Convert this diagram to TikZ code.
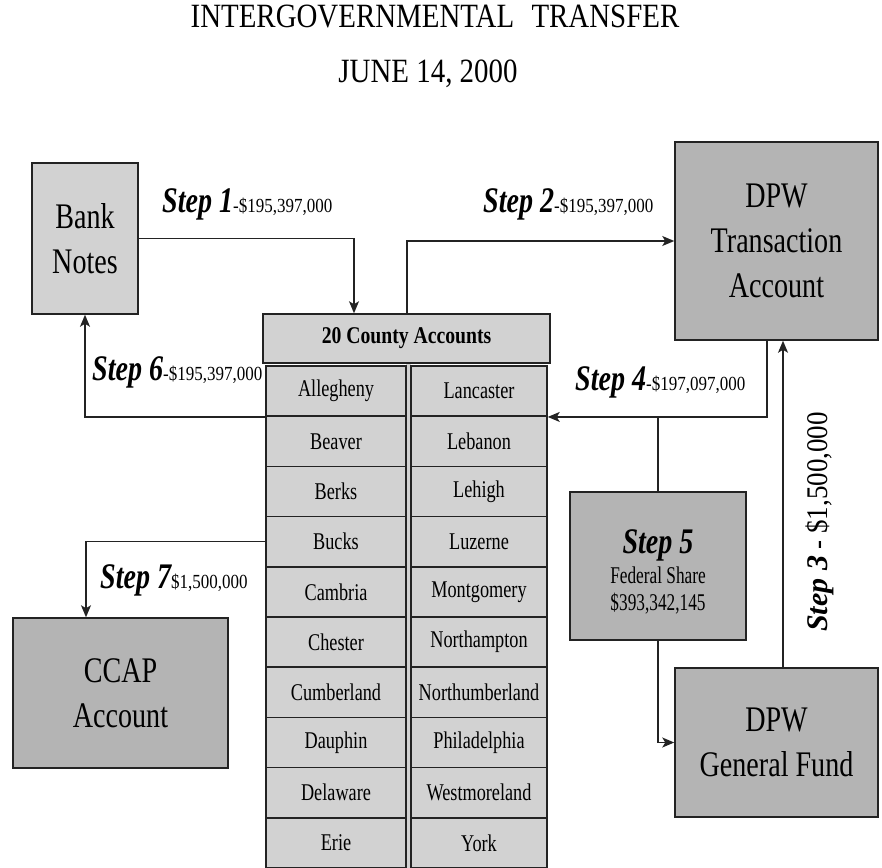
\documentclass[tikz,border=0pt]{standalone}
\usepackage{fontspec}
\setmainfont{Liberation Serif}
\usetikzlibrary{arrows.meta}
\definecolor{lightbox}{RGB}{210,210,210}
\definecolor{darkbox}{RGB}{180,180,180}
\definecolor{edge}{RGB}{35,35,35}
\newcommand\nx[2][0.78]{\scalebox{#1}[1]{#2}}
\newcommand\bigtxt{\fontsize{36}{45}\selectfont}
\newcommand\celltxt[1]{{\fontsize{24}{24}\selectfont\nx[0.76]{#1}}}
\newcommand\steptxt[2]{{\fontsize{36}{36}\selectfont\bfseries\itshape\nx{#1}}{\fontsize{20}{20}\selectfont\nx[0.85]{#2}}}
\begin{document}
\begin{tikzpicture}[x=1pt,y=-1pt,
  box/.style={draw=edge, line width=1.5pt, inner sep=0pt, align=center, font=\bigtxt},
  lightb/.style={box, fill=lightbox},
  darkb/.style={box, fill=darkbox},
  cellb/.style={lightb, minimum height=50.2pt},
  conn/.style={draw=edge, line width=1.3pt},
  arr/.style={conn, -{Stealth[length=12pt,width=10pt,inset=3pt]}},
  lbl/.style={inner sep=0pt, anchor=base west}]
\useasboundingbox (0,0) rectangle (882,867);

% title
\node[inner sep=0pt, anchor=base] (t1) at (435,28) {\fontsize{34}{34}\selectfont\nx[0.85]{INTERGOVERNMENTAL\hspace{0.35em} TRANSFER}};
\node[inner sep=0pt, anchor=base] (t2) at (428,82) {\fontsize{34}{34}\selectfont\nx[0.85]{JUNE 14, 2000}};

% boxes
\node[lightb, minimum width=106pt, minimum height=151pt] (bank) at (85,238.5) {\nx{Bank}\\\nx{Notes}};
\node[darkb, minimum width=203pt, minimum height=198pt] (dpwt) at (776.5,241) {\nx{DPW}\\\nx{Transaction}\\\nx{Account}};
\node[darkb, minimum width=203pt, minimum height=149pt] (dpwg) at (776.5,742.5) {\nx{DPW}\\\nx{General Fund}};
\node[darkb, minimum width=215pt, minimum height=150pt] (ccap) at (120.5,693) {\nx{CCAP}\\\nx{Account}};
\node[darkb, minimum width=176pt, minimum height=148pt] (step5) at (658,566) {};
\node[lbl, anchor=base] (s5a) at (658,553) {\fontsize{36}{36}\selectfont\bfseries\itshape\nx{Step 5}};
\node[lbl, anchor=base] (s5b) at (658,583) {\fontsize{24}{24}\selectfont\nx[0.72]{Federal Share}};
\node[lbl, anchor=base] (s5c) at (658,610) {\fontsize{24}{24}\selectfont\nx[0.72]{\$393,342,145}};

% county table
\fill[lightbox] (406,363) rectangle (411,868);
\node[lightb, minimum width=287pt, minimum height=49pt] (hdr) at (406.5,338.5) {\fontsize{24}{24}\selectfont\bfseries\nx[0.82]{20 County Accounts}};
\foreach \i/\a/\b in {1/Allegheny/Lancaster,2/Beaver/Lebanon,3/Berks/Lehigh,4/Bucks/Luzerne,
  5/Cambria/Montgomery,6/Chester/Northampton,7/Cumberland/Northumberland,
  8/Dauphin/Philadelphia,9/Delaware/Westmoreland,10/Erie/York}{
  \node[cellb, minimum width=140pt] (L\i) at (336,{366+50.2*(\i-0.5)}) {\celltxt{\a}};
  \node[cellb, minimum width=136pt] (R\i) at (479,{366+50.2*(\i-0.5)}) {\celltxt{\b}};
}

% helper coordinates for connector columns
\coordinate (x1) at (354,0);
\coordinate (x2) at (407,0);
\coordinate (x4) at (767,0);
\coordinate (x3) at (783,0);
\coordinate (x7) at (86,0);

% connectors
\draw[arr] (bank.east) -| (hdr.north -| x1);
\draw[arr] (hdr.north -| x2) |- (dpwt.west);
\draw[arr] (dpwt.south -| x4) |- (R1.south east);
\draw[arr] (L1.south west) -| (bank.south);
\draw[conn] (step5.north) -- (step5.north |- R1.south);
\draw[arr] (step5.south) |- (dpwg.west);
\draw[arr] (dpwg.north -| x3) -- (dpwt.south -| x3);
\draw[arr] (L4.west) -| (ccap.north -| x7);

% step labels
\node[lbl] (st1) at (162,212) {\steptxt{Step 1}{-\$195,397,000}};
\node[lbl] (st2) at (483,212) {\steptxt{Step 2}{-\$195,397,000}};
\node[lbl] (st4) at (575,390) {\steptxt{Step 4}{-\$197,097,000}};
\node[lbl] (st6) at (92,380) {\steptxt{Step 6}{-\$195,397,000}};
\node[lbl] (st7) at (100,588) {\steptxt{Step 7}{\$1,500,000}};
\node[lbl, rotate=90] (st3) at (827,632) {{\fontsize{30}{30}\selectfont\bfseries\itshape Step 3}{\fontsize{30}{30}\selectfont\nx[0.9]{ - \$1,500,000}}};
\end{tikzpicture}
\end{document}
